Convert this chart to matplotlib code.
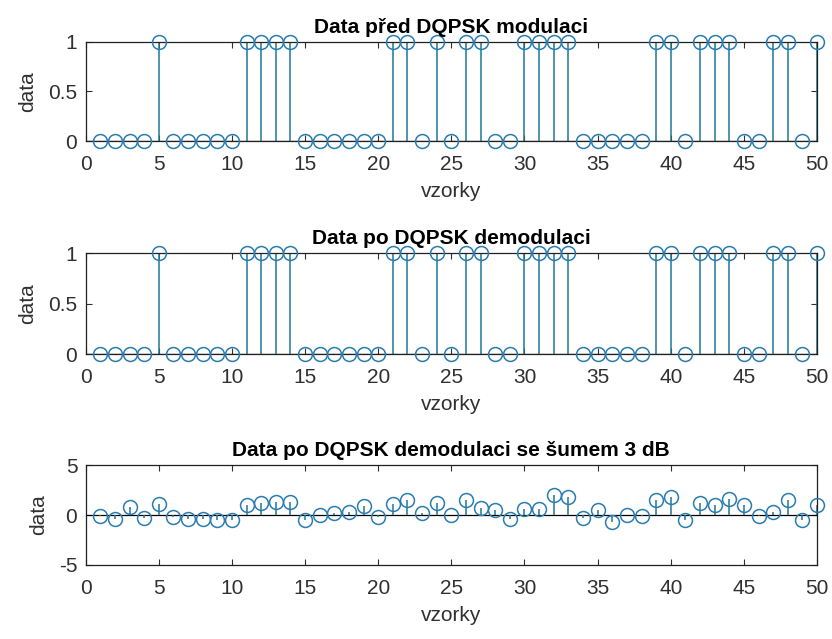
import matplotlib
matplotlib.use("Agg")
import matplotlib.pyplot as plt
import numpy as np

plt.rcParams['font.family'] = ['Liberation Sans', 'DejaVu Sans']

# transmitted bits (before modulation) and recovered bits (after demodulation)
bits_tx = [0, 0, 0, 0, 1, 0, 0, 0, 0, 0,
           1, 1, 1, 1, 0, 0, 0, 0, 0, 0,
           1, 1, 0, 1, 0, 1, 1, 0, 0, 1,
           1, 1, 1, 0, 0, 0, 0, 0, 1, 1,
           0, 1, 1, 1, 0, 0, 1, 1, 0, 1]
bits_rx = list(bits_tx)

# demodulated soft values with 3 dB noise
noisy = [-0.1, -0.4, 0.8, -0.3, 1.1, -0.2, -0.35, -0.4, -0.5, -0.5,
         1.0, 1.2, 1.3, 1.3, -0.45, 0.05, 0.25, 0.3, 0.9, -0.2,
         1.15, 1.55, 0.25, 1.2, 0.05, 1.5, 0.75, 0.5, -0.35, 0.6,
         0.65, 2.05, 1.8, -0.25, 0.55, -0.65, 0.05, -0.1, 1.5, 1.8,
         -0.5, 1.25, 1.0, 1.65, 1.05, -0.05, 0.3, 1.5, -0.45, 1.05]

titles = ["Data před DQPSK modulaci",
          "Data po DQPSK demodulaci",
          "Data po DQPSK demodulaci se šumem 3 dB"]
series = [bits_tx, bits_rx, noisy]
ylims = [(0, 1), (0, 1), (-5, 5)]
yticks = [[0, 0.5, 1], [0, 0.5, 1], [-5, 0, 5]]
yticklabels = [["0", "0.5", "1"], ["0", "0.5", "1"], ["-5", "0", "5"]]
xticks = list(range(0, 51, 5))

stem_c = '#1f7896'
mark_c = '#2a7db0'
txtc = '#303030'

fig = plt.figure(figsize=(8.32, 6.39), dpi=100)
positions = [[0.103, 0.779, 0.879, 0.156],
             [0.103, 0.446, 0.879, 0.158],
             [0.103, 0.116, 0.879, 0.156]]

for pos, ys, title, yl, yt, ytl in zip(positions, series, titles, ylims, yticks, yticklabels):
    ax = fig.add_axes(pos)
    n = np.arange(1, len(ys) + 1)
    ax.axhline(0, color='black', lw=0.9, zorder=2)
    ml, sl, bl = ax.stem(n, ys, basefmt=' ')
    plt.setp(sl, color=stem_c, linewidth=1.1)
    plt.setp(ml, marker='o', markersize=10, markerfacecolor='none',
             markeredgecolor=mark_c, markeredgewidth=1.1, clip_on=False, zorder=3)
    sl.set_clip_on(False)
    ax.set_xlim(0, 50)
    ax.set_ylim(*yl)
    ax.set_xticks(xticks)
    ax.set_yticks(yt)
    ax.set_yticklabels(ytl)
    ax.tick_params(direction='in', top=True, right=True, length=4,
                   labelsize=15, colors=txtc, labelcolor=txtc, width=0.8)
    ax.tick_params(axis='x', pad=10)
    ax.tick_params(axis='y', pad=6)
    for s in ax.spines.values():
        s.set_linewidth(0.9)
        s.set_color('#202020')
    ax.set_title(title, fontsize=15, fontweight='bold', pad=6.5, color='black')
    ax.set_xlabel('vzorky', fontsize=15, color=txtc, labelpad=6)
    ax.set_ylabel('data', fontsize=15, color=txtc, labelpad=8)

fig.savefig('out.png', dpi=100, facecolor='white')
